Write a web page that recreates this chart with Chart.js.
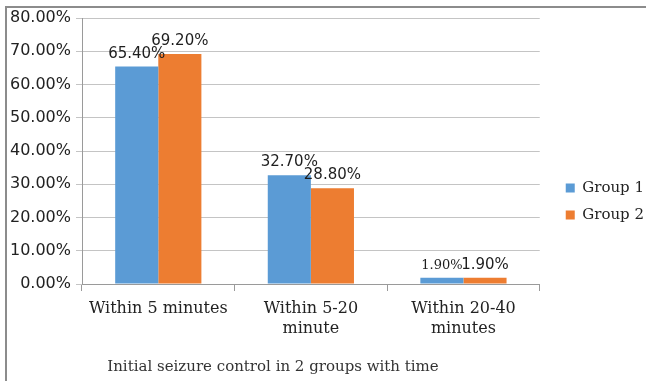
<!DOCTYPE html>
<html>
<head>
<meta charset="utf-8">
<script src="https://cdn.jsdelivr.net/npm/chart.js@4.4.1/dist/chart.umd.min.js"></script>
<style>
  html, body { margin: 0; padding: 0; background: #fff; }
  .wrap { position: relative; width: 646px; height: 381px; }
  /* grey frame on the top and left edges of the picture */
  .frame { position: absolute; left: 5px; top: 6px; right: 0; bottom: 0; border-left: 2px solid #8c8c8c; border-top: 2px solid #8c8c8c; pointer-events: none; }
</style>
</head>
<body>
<div class="wrap">
  <canvas id="seizureChart" width="646" height="381"></canvas>
  <div class="frame"></div>
</div>
<script>
// Data
const categories = [['Within 5 minutes'], ['Within 5-20', 'minute'], ['Within 20-40', 'minutes']];
const seriesNames = ['Group 1', 'Group 2'];
const group1 = [65.4, 32.7, 1.9];
const group2 = [69.2, 28.8, 1.9];
const yTicks = [0, 10, 20, 30, 40, 50, 60, 70, 80];

const BLUE = '#5b9bd5';
const ORANGE = '#ed7d31';

// Value labels above the bars
const valueLabels = {
    id: 'valueLabels',
    afterDatasetsDraw(chart) {
        const ctx = chart.ctx;
        ctx.save();
        ctx.textAlign = 'center';
        ctx.textBaseline = 'alphabetic';
        ctx.fillStyle = '#1e1e1e';
        chart.data.datasets.forEach(function (ds, di) {
            chart.getDatasetMeta(di).data.forEach(function (bar, i) {
                // the small 1.90% label of group 1 is set in a serif face in the original
                const serif = di === 0 && i === 2;
                ctx.font = serif ? '13px "DejaVu Serif"' : '15px "DejaVu Sans"';
                ctx.fillText(ds.data[i].toFixed(2) + '%', bar.x, bar.y - 9);
            });
        });
        ctx.restore();
    }
};

// Nudge title and legend to where the original has them
const blockShift = {
    id: 'blockShift',
    afterLayout(chart) {
        chart.titleBlock.right = chart.titleBlock.left + 546;
        chart.legend.left += 14;
        chart.legend.right += 14;
        chart.legend.top += 2;
        chart.legend.bottom += 2;
    }
};

const ctx = document.getElementById('seizureChart').getContext('2d');

new Chart(ctx, {
    type: 'bar',
    data: {
        labels: categories,
        datasets: [
            { label: seriesNames[0], data: group1, backgroundColor: BLUE },
            { label: seriesNames[1], data: group2, backgroundColor: ORANGE }
        ]
    },
    options: {
        responsive: false,
        animation: false,
        events: [],
        datasets: {
            bar: { categoryPercentage: 0.565, barPercentage: 1 }
        },
        layout: {
            padding: { top: 18, right: 6, bottom: 0, left: 0 }
        },
        plugins: {
            tooltip: { enabled: false },
            legend: {
                position: 'right',
                labels: {
                    boxWidth: 9,
                    boxHeight: 9,
                    padding: 12,
                    color: '#222',
                    font: { family: 'DejaVu Serif', size: 15 }
                }
            },
            title: {
                display: true,
                position: 'bottom',
                text: 'Initial seizure control in 2 groups with time',
                color: '#333',
                font: { family: 'DejaVu Serif', size: 15, weight: 'normal' },
                padding: { top: 22, bottom: 5 }
            }
        },
        scales: {
            x: {
                grid: {
                    drawOnChartArea: false,
                    tickLength: 7,
                    color: '#9a9a9a'
                },
                border: { color: '#9a9a9a' },
                ticks: {
                    color: '#222',
                    padding: 8,
                    maxRotation: 0,
                    font: { family: 'DejaVu Serif', size: 16, lineHeight: 1.25 }
                },
                afterFit: function (scale) { scale.height = 52; }
            },
            y: {
                min: 0,
                max: 80,
                afterBuildTicks: function (scale) {
                    scale.ticks = yTicks.map(function (v) { return { value: v }; });
                },
                grid: { color: '#c4c4c4', tickLength: 6 },
                border: { color: '#9a9a9a' },
                ticks: {
                    color: '#222',
                    padding: 5,
                    font: { family: 'DejaVu Sans', size: 16 },
                    callback: function (value) { return value.toFixed(2) + '%'; }
                },
                afterFit: function (scale) { scale.width = 82; }
            }
        }
    },
    plugins: [valueLabels, blockShift]
});
</script>
</body>
</html>
